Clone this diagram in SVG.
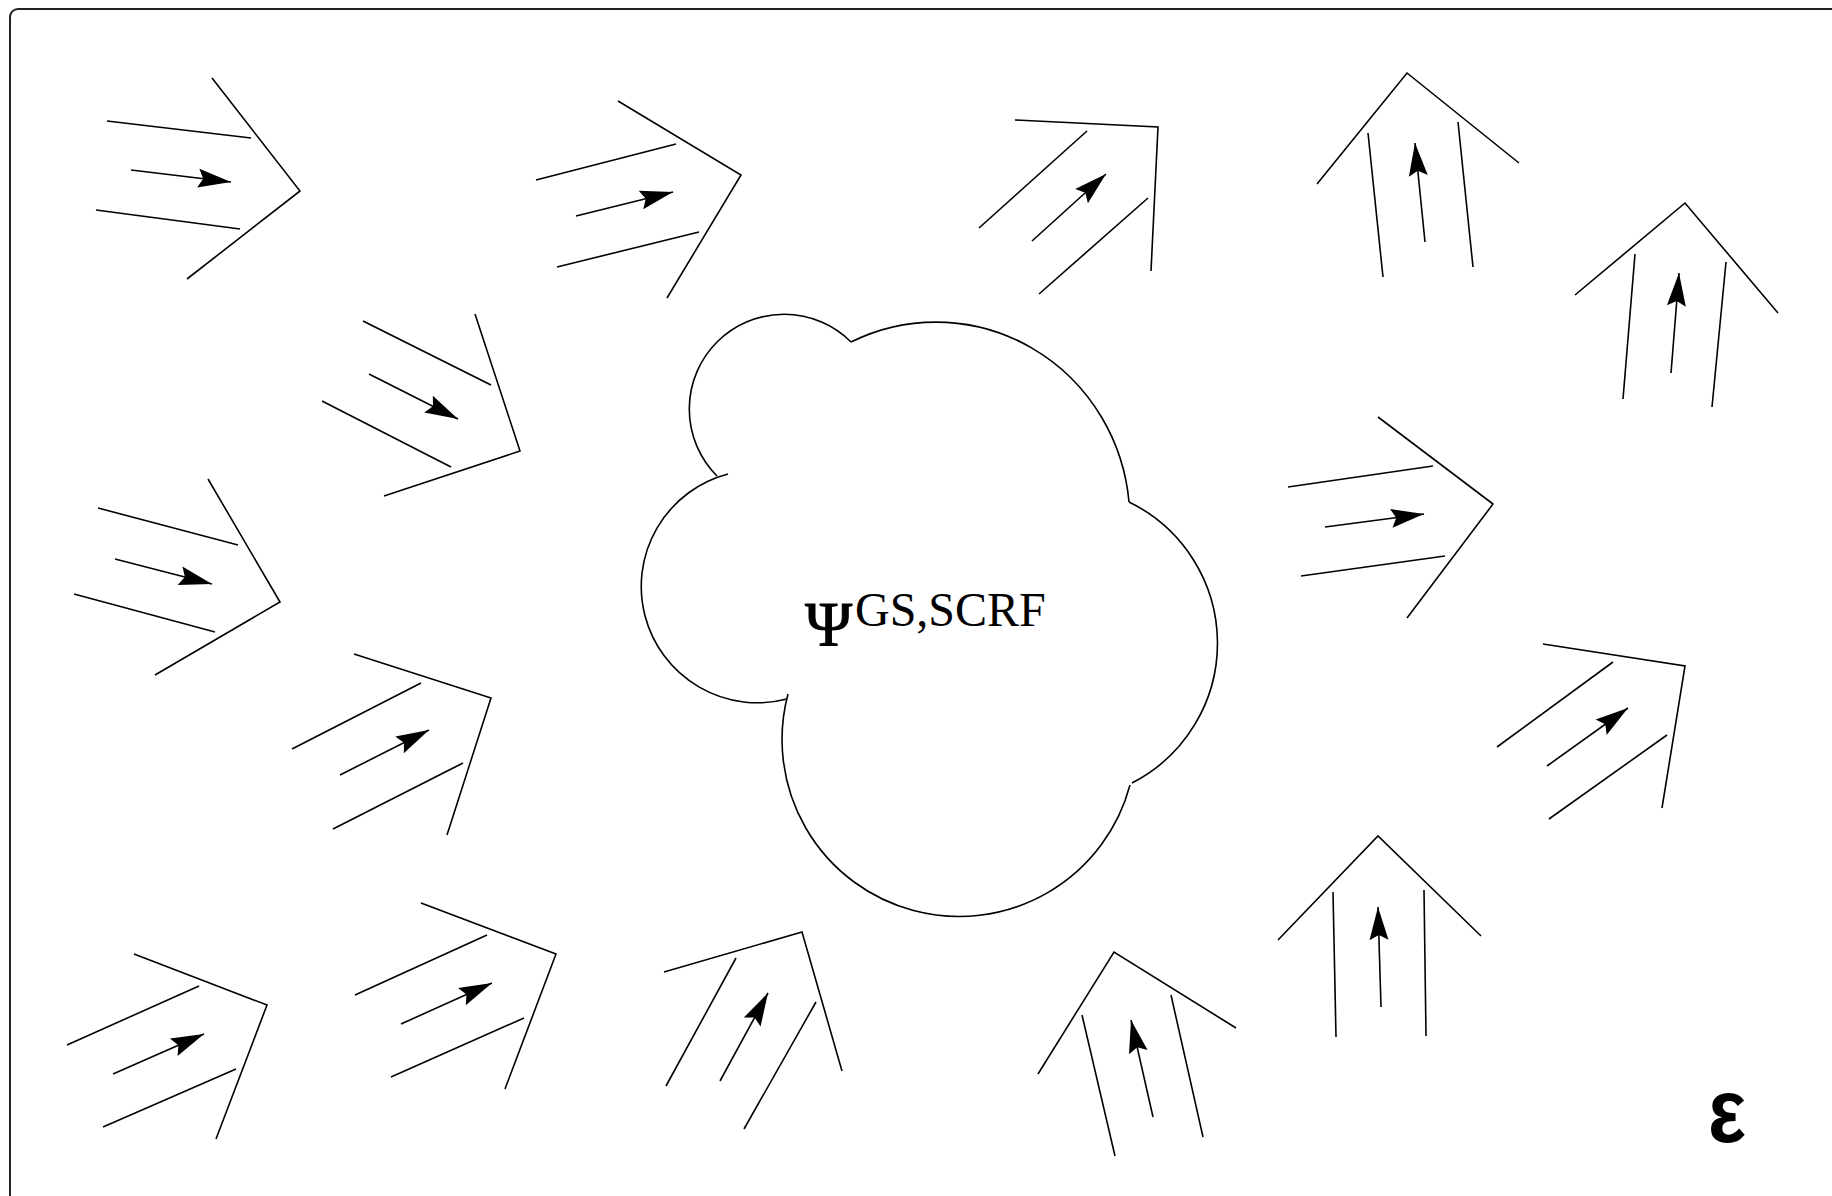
<svg xmlns="http://www.w3.org/2000/svg" width="1832" height="1196" viewBox="0 0 1832 1196">
  <defs>
    <marker id="ah" viewBox="-35 -11 36 22" markerWidth="36" markerHeight="22" refX="0" refY="0" orient="auto" markerUnits="userSpaceOnUse">
      <path d="M0,0 L-33,-9.5 L-28,0 L-33,9.5 Z" fill="#000"/>
    </marker>
  </defs>
  <style>
    .frame { fill: #fff; stroke: #222; stroke-width: 2; }
    .fa polyline, .fa line { fill: none; stroke: #000; stroke-width: 1.6; }
    .fa line.flow { marker-end: url(#ah); }
    .cloud path { fill: none; stroke: #000; stroke-width: 1.6; }
    .lbl { font-family: "Liberation Serif", "Times New Roman", serif; fill: #000; }
    .psi { stroke: #000; stroke-width: 1; }
    .eps { font-family: "Liberation Sans", Arial, sans-serif; font-weight: bold; fill: #000; }
  </style>
  <rect width="1832" height="1196" fill="#fff"/>
  <rect class="frame" x="10" y="9" width="1840" height="1200" rx="8" ry="8"/>

  <g id="cloud" class="cloud">
    <path d="M717,476 A10,10 0 0 1 851,342"/>
    <path d="M851,342 A194,198 0 0 1 1129,502"/>
    <path d="M1129,502 A157,157 0 0 1 1132,783"/>
    <path d="M1130,785 A10,10 0 0 1 788,694"/>
    <path d="M787,699 A10,10 0 0 1 728,474"/>
    <text class="lbl psi" x="805" y="646" font-size="64">Ψ</text>
    <text class="lbl" x="855" y="626" font-size="48">GS,SCRF</text>
  </g>

  <g id="connectors">
    <g id="a1" class="fa">
      <polyline points="212,78 300,191 187,279"/>
      <line x1="107" y1="121" x2="251" y2="138"/>
      <line x1="96" y1="210" x2="240" y2="229"/>
      <line class="flow" x1="131" y1="170" x2="231" y2="182"/>
    </g>
    <g id="a2" class="fa">
      <polyline points="618,101 741,175 667,298"/>
      <line x1="536" y1="180" x2="676" y2="144"/>
      <line x1="557" y1="267" x2="699" y2="232"/>
      <line class="flow" x1="576" y1="216" x2="673" y2="192"/>
    </g>
    <g id="a3" class="fa">
      <polyline points="1015,120 1158,127 1151,271"/>
      <line x1="979" y1="228" x2="1087" y2="131"/>
      <line x1="1039" y1="294" x2="1148" y2="198"/>
      <line class="flow" x1="1032" y1="241" x2="1106" y2="174"/>
    </g>
    <g id="a4" class="fa">
      <polyline points="1317,184 1407,73 1519,163"/>
      <line x1="1368" y1="133" x2="1383" y2="277"/>
      <line x1="1458" y1="122" x2="1473" y2="267"/>
      <line class="flow" x1="1425" y1="242" x2="1415" y2="143"/>
    </g>
    <g id="a5" class="fa">
      <polyline points="1575,295 1685,203 1778,313"/>
      <line x1="1635" y1="254" x2="1623" y2="399"/>
      <line x1="1726" y1="262" x2="1712" y2="407"/>
      <line class="flow" x1="1671" y1="373" x2="1679" y2="273"/>
    </g>
    <g id="a6" class="fa">
      <polyline points="475,314 520,451 384,496"/>
      <line x1="363" y1="321" x2="491" y2="385"/>
      <line x1="322" y1="401" x2="451" y2="467"/>
      <line class="flow" x1="369" y1="374" x2="458" y2="419"/>
    </g>
    <g id="a7" class="fa">
      <polyline points="208,479 280,602 155,675"/>
      <line x1="98" y1="508" x2="238" y2="545"/>
      <line x1="74" y1="594" x2="215" y2="632"/>
      <line class="flow" x1="115" y1="559" x2="212" y2="584"/>
    </g>
    <g id="a8" class="fa">
      <polyline points="354,654 491,698 447,835"/>
      <line x1="292" y1="749" x2="421" y2="683"/>
      <line x1="333" y1="829" x2="463" y2="763"/>
      <line class="flow" x1="340" y1="775" x2="429" y2="730"/>
    </g>
    <g id="a9" class="fa">
      <polyline points="1378,417 1493,504 1407,618"/>
      <line x1="1288" y1="487" x2="1433" y2="466"/>
      <line x1="1301" y1="576" x2="1445" y2="556"/>
      <line class="flow" x1="1325" y1="527" x2="1424" y2="514"/>
    </g>
    <g id="a10" class="fa">
      <polyline points="1543,644 1685,666 1662,808"/>
      <line x1="1497" y1="747" x2="1613" y2="662"/>
      <line x1="1549" y1="819" x2="1667" y2="735"/>
      <line class="flow" x1="1547" y1="766" x2="1628" y2="708"/>
    </g>
    <g id="a11" class="fa">
      <polyline points="134,954 267,1005 216,1139"/>
      <line x1="67" y1="1045" x2="199" y2="986"/>
      <line x1="103" y1="1127" x2="236" y2="1069"/>
      <line class="flow" x1="113" y1="1074" x2="204" y2="1034"/>
    </g>
    <g id="a12" class="fa">
      <polyline points="421,903 556,954 505,1089"/>
      <line x1="355" y1="995" x2="487" y2="935"/>
      <line x1="391" y1="1077" x2="524" y2="1018"/>
      <line class="flow" x1="401" y1="1024" x2="492" y2="983"/>
    </g>
    <g id="a13" class="fa">
      <polyline points="664,972 802,932 842,1071"/>
      <line x1="666" y1="1086" x2="736" y2="958"/>
      <line x1="744" y1="1129" x2="816" y2="1002"/>
      <line class="flow" x1="720" y1="1081" x2="768" y2="993"/>
    </g>
    <g id="a14" class="fa">
      <polyline points="1038,1074 1114,952 1236,1028"/>
      <line x1="1082" y1="1015" x2="1115" y2="1156"/>
      <line x1="1171" y1="995" x2="1203" y2="1137"/>
      <line class="flow" x1="1153" y1="1117" x2="1131" y2="1020"/>
    </g>
    <g id="a15" class="fa">
      <polyline points="1278,940 1378,836 1481,936"/>
      <line x1="1333" y1="892" x2="1336" y2="1037"/>
      <line x1="1424" y1="890" x2="1426" y2="1036"/>
      <line class="flow" x1="1381" y1="1007" x2="1378" y2="907"/>
    </g>
  </g>

  <g id="epsilon">
    <text class="eps" x="1708" y="1142" font-size="90" textLength="38" lengthAdjust="spacingAndGlyphs">ε</text>
  </g>
</svg>
